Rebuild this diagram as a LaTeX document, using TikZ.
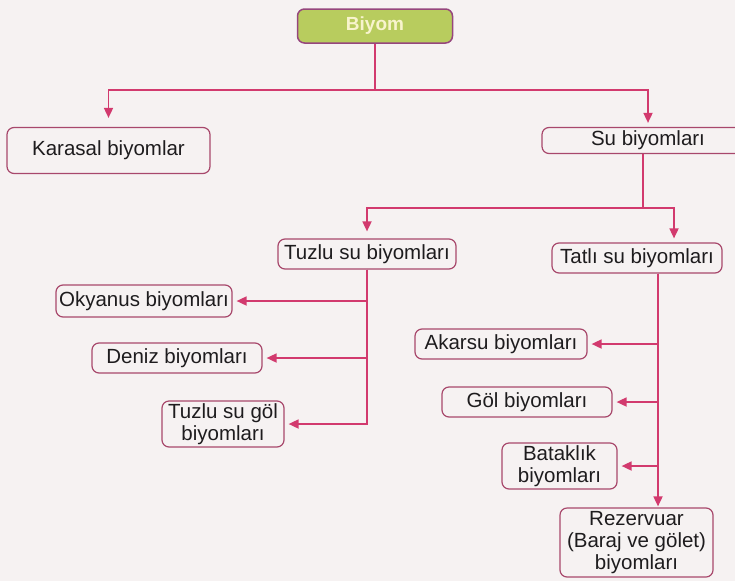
\documentclass[tikz,border=0pt]{standalone}
\usepackage{fontspec}
\setmainfont{Liberation Sans}
\usetikzlibrary{arrows.meta}

\definecolor{linkred}{RGB}{210,58,110}
\definecolor{boxedge}{RGB}{168,72,108}
\definecolor{biyomgreen}{RGB}{184,204,94}
\definecolor{biyomedge}{RGB}{150,70,125}
\definecolor{biyomtext}{RGB}{248,244,205}
\definecolor{paper}{RGB}{246,242,242}
\definecolor{ink}{RGB}{30,28,30}

\begin{document}
\begin{tikzpicture}[
    x = 1pt, y = -1pt,
    every node/.style = {font = \fontsize{20.5}{22}\selectfont, text = ink},
    box/.style = {draw = boxedge, line width = 1.2pt, rounded corners = 7pt,
                  inner sep = 0pt, align = center},
    link/.style = {draw = linkred, line width = 1.7pt},
    arrow/.style = {link, -{Triangle[length=10pt, width=9pt]}, shorten > = 4pt}]

\useasboundingbox (0,0) rectangle (735,581);
\clip (0,0) rectangle (735,581);
\fill[paper] (0,0) rectangle (735,581);

% top level
\path (375,26) node[box, fill = biyomgreen, draw = biyomedge, line width = 1.5pt,
                    minimum width = 155, minimum height = 34,
                    font = \fontsize{19}{20}\selectfont\bfseries, text = biyomtext] (biyom) {Biyom}
      (108.5,150.5) node[box, minimum width = 203, minimum height = 46] (karasal) {Karasal biyomlar}
      (648,140.5) node[box, minimum width = 212, minimum height = 26] (su) {Su biyomları}
      ;

% water biomes
\path (367,254) node[box, minimum width = 178, minimum height = 30] (tuzlu) {Tuzlu su biyomları}
      (637,258) node[box, minimum width = 170, minimum height = 30] (tatli) {Tatlı su biyomları}
      (144,301) node[box, minimum width = 176, minimum height = 32] (okyanus) {Okyanus biyomları}
      (177,358) node[box, minimum width = 170, minimum height = 30] (deniz) {Deniz biyomları}
      (223,424) node[box, minimum width = 122, minimum height = 46] (tuzlugol) {Tuzlu su göl\\biyomları}
      (501,344) node[box, minimum width = 172, minimum height = 30] (akarsu) {Akarsu biyomları}
      (527,402) node[box, minimum width = 170, minimum height = 30] (gol) {Göl biyomları}
      (559.5,466) node[box, minimum width = 115, minimum height = 46] (batak) {Bataklık\\biyomları}
      (636.5,542.5) node[box, minimum width = 153, minimum height = 69] (rezervuar) {Rezervuar\\(Baraj ve gölet)\\biyomları}
      ;

\coordinate (bsplit) at (375,90);
\coordinate (ssplit) at (643,208);
\coordinate (tstem) at ([xshift=21pt]tatli.south);

\draw[link] (biyom) -- (bsplit);
\draw[arrow, shorten > = 9pt] (bsplit) -| (karasal);
\draw[arrow] (bsplit) -| (su);

\draw[link] (ssplit |- su.south) -- (ssplit);
\draw[arrow, shorten > = 7pt] (ssplit) -| (tuzlu);
\draw[arrow] (ssplit) -| ([xshift=37pt]tatli.north);

\draw[arrow] (tuzlu.south) |- (okyanus);
\draw[arrow] (tuzlu.south) |- (deniz);
\draw[arrow] (tuzlu.south) |- (tuzlugol);

\draw[arrow] (tstem) |- (akarsu);
\draw[arrow] (tstem) |- (gol);
\draw[arrow] (tstem) |- (batak);
\draw[arrow, shorten > = 1pt] (tstem) -- (tstem |- rezervuar.north);
\end{tikzpicture}
\end{document}
